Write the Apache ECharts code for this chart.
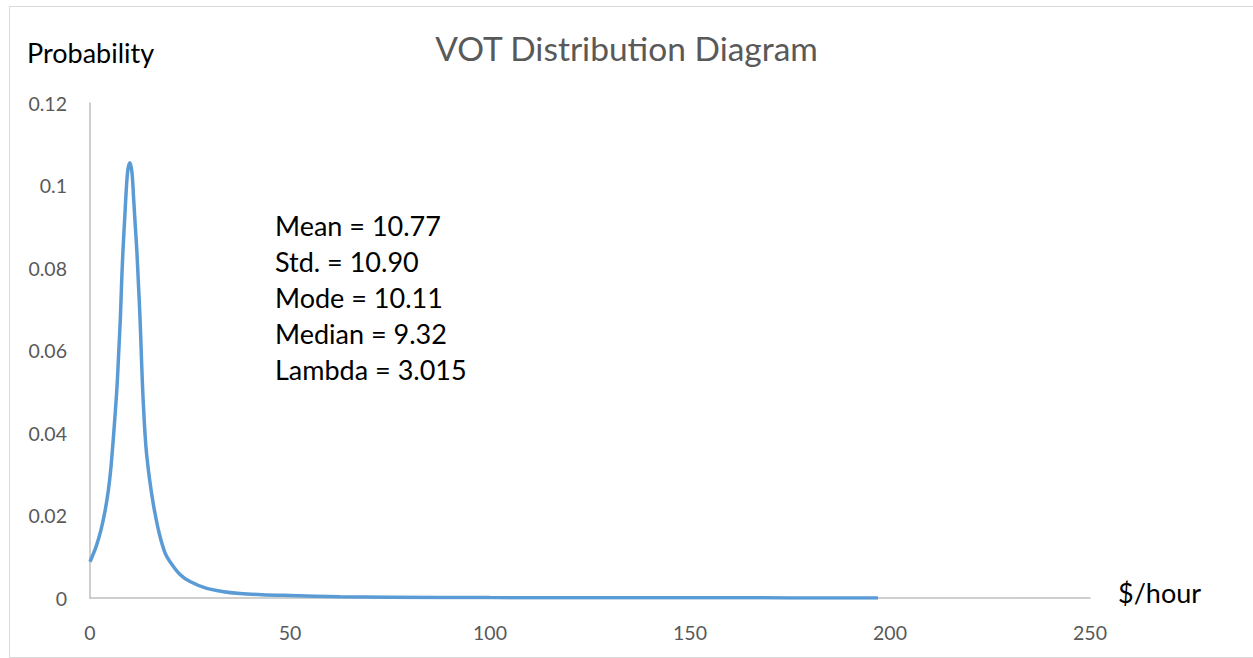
<!DOCTYPE html>
<html>
<head>
<meta charset="utf-8">
<script src="https://cdn.jsdelivr.net/npm/echarts@6/dist/echarts.min.js"></script>
<style>
html,body{margin:0;padding:0;background:#fff;}
#chart{width:1253px;height:658px;}
</style>
</head>
<body>
<div id="chart"></div>
<script>
// Data
const xValues = [0, 1.5, 2.75, 3.8, 4.6, 5.25, 5.8, 6.3, 6.8, 7.2, 7.6, 7.9, 8.25, 8.7, 9.1, 9.5, 10, 10.5, 10.9, 11.3, 11.7, 12.1, 12.5, 12.8, 13.1, 13.5, 14, 14.6, 15.3, 16.1, 17.3, 18.8, 20, 22.5, 25, 29, 33, 37.5, 43, 50, 62.5, 75, 100, 125, 150, 175, 197];
const probValues = [0.0088, 0.0124, 0.0165, 0.0213, 0.0262, 0.0318, 0.0383, 0.0448, 0.052, 0.060, 0.068, 0.0763, 0.0844, 0.0924, 0.0995, 0.1040, 0.1055, 0.1030, 0.0970, 0.0905, 0.0844, 0.0763, 0.068, 0.060, 0.052, 0.044, 0.0365, 0.031, 0.026, 0.0213, 0.0157, 0.0108, 0.0088, 0.0057, 0.0040, 0.0024, 0.0016, 0.0011, 0.0008, 0.0006, 0.0003, 0.0002, 0.0001, 0.00006, 0.00004, 0.00003, 0.00002];
const yTicks = [0, 0.02, 0.04, 0.06, 0.08, 0.1, 0.12];
const xTicks = [0, 50, 100, 150, 200, 250];
const statsLines = ['Mean = 10.77', 'Std. = 10.90', 'Mode = 10.11', 'Median = 9.32', 'Lambda = 3.015'];
const titleText = 'VOT Distribution Diagram';
const yAxisName = 'Probability';
const xAxisName = '$/hour';

const FONT = 'Lato, "Open Sans", sans-serif';
const chart = echarts.init(document.getElementById('chart'), null, {renderer: 'svg'});

const seriesData = xValues.map((x, i) => [x, probValues[i]]);

const graphics = [
  {
    type: 'rect', left: 7, top: 4, silent: true, z: -10,
    shape: {x: 0, y: 0, width: 1260, height: 651},
    style: {fill: 'none', stroke: '#d9d9d9', lineWidth: 1}
  },
  {
    type: 'text', x: 27, y: 52,
    style: {text: yAxisName, font: '27px ' + FONT, fill: '#000', verticalAlign: 'middle'}
  },
  {
    type: 'text', x: 1118, y: 592,
    style: {text: xAxisName, font: '27px ' + FONT, fill: '#000', verticalAlign: 'middle'}
  }
];
statsLines.forEach((t, i) => {
  graphics.push({
    type: 'text', x: 275, y: 225 + i * 36,
    style: {text: t, font: '27px ' + FONT, fill: '#000', verticalAlign: 'middle'}
  });
});

chart.setOption({
  animation: false,
  backgroundColor: '#fff',
  title: {
    text: titleText, left: 'center', top: 26,
    textStyle: {fontFamily: FONT, fontSize: 33.5, fontWeight: 'normal', color: '#595959'}
  },
  grid: {left: 90, right: 163, top: 103, bottom: 60, containLabel: false},
  xAxis: {
    type: 'value', min: xTicks[0], max: xTicks[xTicks.length - 1], interval: 50,
    axisLine: {show: true, lineStyle: {color: '#bfbfbf', width: 1.5}},
    axisTick: {show: false},
    splitLine: {show: false},
    axisLabel: {color: '#595959', fontSize: 19.5, fontFamily: FONT, margin: 24}
  },
  yAxis: {
    type: 'value', min: yTicks[0], max: yTicks[yTicks.length - 1], interval: 0.02,
    axisLine: {show: true, lineStyle: {color: '#bfbfbf', width: 1.5}},
    axisTick: {show: false},
    splitLine: {show: false},
    axisLabel: {color: '#595959', fontSize: 19.5, fontFamily: FONT, margin: 23,
      formatter: v => String(Number(v.toFixed(2)))}
  },
  graphic: graphics,
  series: [{
    type: 'line', data: seriesData, smooth: 0.35, showSymbol: false,
    lineStyle: {color: '#5b9bd5', width: 3.5}
  }]
});
</script>
</body>
</html>
